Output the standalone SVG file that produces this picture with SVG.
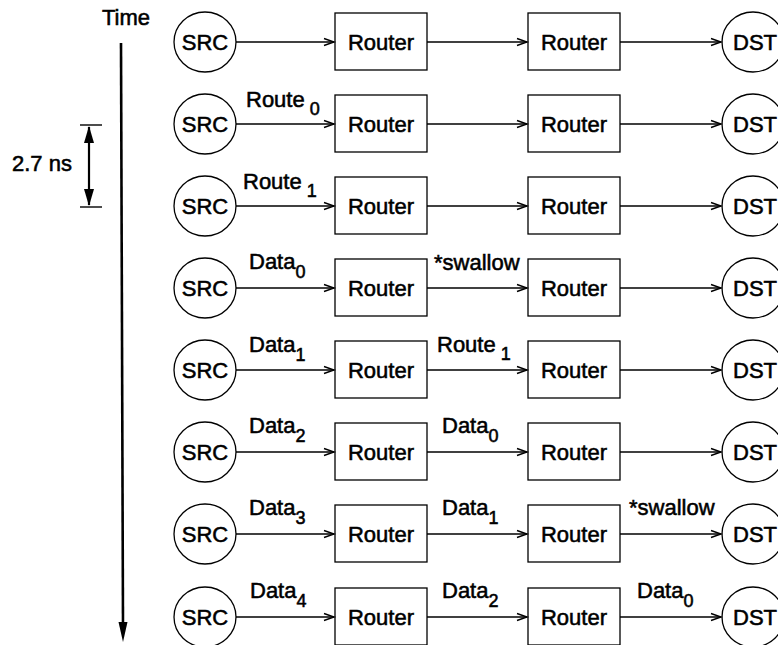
<svg xmlns="http://www.w3.org/2000/svg" width="778" height="645" viewBox="0 0 778 645">
<defs>
<style>
text{font-family:"Liberation Sans",Arial,Helvetica,sans-serif;fill:#000;stroke:#000;stroke-width:0.55;}
.t{font-size:22px;}
.c{text-anchor:middle;}
.s{font-size:18px;}
.nd{fill:#fff;stroke:#000;stroke-width:1.3;}
.cn{stroke:#000;stroke-width:1.4;fill:none;}
.ax{stroke:#000;stroke-width:2.6;fill:none;}
</style>
<marker id="ah" markerUnits="userSpaceOnUse" markerWidth="12" markerHeight="10" refX="10" refY="4" orient="auto" overflow="visible">
<path d="M0,0.5 L10,4 L0,7.5" fill="none" stroke="#000" stroke-width="1.4"/>
</marker>
</defs>
<rect width="778" height="645" fill="#fff"/>

<g id="time-axis">
<text class="t" x="102" y="25">Time</text>
<line class="ax" x1="121" y1="43" x2="123" y2="626"/>
<polygon points="118.5,622 127.5,622 123,642" fill="#000"/>
</g>
<g id="dimension">
<text class="t" x="12" y="171">2.7 ns</text>
<line x1="89" y1="127" x2="89" y2="205" stroke="#000" stroke-width="2.2"/>
<line x1="80" y1="125" x2="102" y2="125" stroke="#000" stroke-width="1.4"/>
<line x1="80" y1="207" x2="102" y2="207" stroke="#000" stroke-width="1.4"/>
<polygon points="89,126 84,143 94,143" fill="#000"/>
<polygon points="89,206 84,189 94,189" fill="#000"/>
</g>

<g id="row1">
<g id="src1"><ellipse class="nd" cx="205" cy="42" rx="31" ry="30"/><text class="t c" x="205" y="50">SRC</text></g>
<g id="ra1"><rect class="nd" x="335" y="13" width="92" height="57"/><text class="t c" x="381" y="50">Router</text></g>
<g id="rb1"><rect class="nd" x="528" y="13" width="92" height="57"/><text class="t c" x="574" y="50">Router</text></g>
<g id="dst1"><ellipse class="nd" cx="753" cy="42" rx="31" ry="30"/><text class="t c" x="755" y="50">DST</text></g>
</g>
<g id="row2">
<g id="src2"><ellipse class="nd" cx="205" cy="124" rx="31" ry="30"/><text class="t c" x="205" y="132">SRC</text></g>
<g id="ra2"><rect class="nd" x="335" y="95" width="92" height="57"/><text class="t c" x="381" y="132">Router</text></g>
<g id="rb2"><rect class="nd" x="528" y="95" width="92" height="57"/><text class="t c" x="574" y="132">Router</text></g>
<g id="dst2"><ellipse class="nd" cx="753" cy="124" rx="31" ry="30"/><text class="t c" x="755" y="132">DST</text></g>
</g>
<g id="row3">
<g id="src3"><ellipse class="nd" cx="205" cy="206" rx="31" ry="30"/><text class="t c" x="205" y="214">SRC</text></g>
<g id="ra3"><rect class="nd" x="335" y="177" width="92" height="57"/><text class="t c" x="381" y="214">Router</text></g>
<g id="rb3"><rect class="nd" x="528" y="177" width="92" height="57"/><text class="t c" x="574" y="214">Router</text></g>
<g id="dst3"><ellipse class="nd" cx="753" cy="206" rx="31" ry="30"/><text class="t c" x="755" y="214">DST</text></g>
</g>
<g id="row4">
<g id="src4"><ellipse class="nd" cx="205" cy="288" rx="31" ry="30"/><text class="t c" x="205" y="296">SRC</text></g>
<g id="ra4"><rect class="nd" x="335" y="259" width="92" height="57"/><text class="t c" x="381" y="296">Router</text></g>
<g id="rb4"><rect class="nd" x="528" y="259" width="92" height="57"/><text class="t c" x="574" y="296">Router</text></g>
<g id="dst4"><ellipse class="nd" cx="753" cy="288" rx="31" ry="30"/><text class="t c" x="755" y="296">DST</text></g>
</g>
<g id="row5">
<g id="src5"><ellipse class="nd" cx="205" cy="370" rx="31" ry="30"/><text class="t c" x="205" y="378">SRC</text></g>
<g id="ra5"><rect class="nd" x="335" y="341" width="92" height="57"/><text class="t c" x="381" y="378">Router</text></g>
<g id="rb5"><rect class="nd" x="528" y="341" width="92" height="57"/><text class="t c" x="574" y="378">Router</text></g>
<g id="dst5"><ellipse class="nd" cx="753" cy="370" rx="31" ry="30"/><text class="t c" x="755" y="378">DST</text></g>
</g>
<g id="row6">
<g id="src6"><ellipse class="nd" cx="205" cy="452" rx="31" ry="30"/><text class="t c" x="205" y="460">SRC</text></g>
<g id="ra6"><rect class="nd" x="335" y="423" width="92" height="57"/><text class="t c" x="381" y="460">Router</text></g>
<g id="rb6"><rect class="nd" x="528" y="423" width="92" height="57"/><text class="t c" x="574" y="460">Router</text></g>
<g id="dst6"><ellipse class="nd" cx="753" cy="452" rx="31" ry="30"/><text class="t c" x="755" y="460">DST</text></g>
</g>
<g id="row7">
<g id="src7"><ellipse class="nd" cx="205" cy="534" rx="31" ry="30"/><text class="t c" x="205" y="542">SRC</text></g>
<g id="ra7"><rect class="nd" x="335" y="505" width="92" height="57"/><text class="t c" x="381" y="542">Router</text></g>
<g id="rb7"><rect class="nd" x="528" y="505" width="92" height="57"/><text class="t c" x="574" y="542">Router</text></g>
<g id="dst7"><ellipse class="nd" cx="753" cy="534" rx="31" ry="30"/><text class="t c" x="755" y="542">DST</text></g>
</g>
<g id="row8">
<g id="src8"><ellipse class="nd" cx="205" cy="617" rx="31" ry="30"/><text class="t c" x="205" y="625">SRC</text></g>
<g id="ra8"><rect class="nd" x="335" y="588" width="92" height="57"/><text class="t c" x="381" y="625">Router</text></g>
<g id="rb8"><rect class="nd" x="528" y="588" width="92" height="57"/><text class="t c" x="574" y="625">Router</text></g>
<g id="dst8"><ellipse class="nd" cx="753" cy="617" rx="31" ry="30"/><text class="t c" x="755" y="625">DST</text></g>
</g>

<g id="connectors">
<path class="cn" marker-end="url(#ah)" d="M236,42 H334"/>
<path class="cn" marker-end="url(#ah)" d="M427,42 H527"/>
<path class="cn" marker-end="url(#ah)" d="M620,42 H721"/>
<path class="cn" marker-end="url(#ah)" d="M236,124 H334"/>
<path class="cn" marker-end="url(#ah)" d="M427,124 H527"/>
<path class="cn" marker-end="url(#ah)" d="M620,124 H721"/>
<path class="cn" marker-end="url(#ah)" d="M236,206 H334"/>
<path class="cn" marker-end="url(#ah)" d="M427,206 H527"/>
<path class="cn" marker-end="url(#ah)" d="M620,206 H721"/>
<path class="cn" marker-end="url(#ah)" d="M236,288 H334"/>
<path class="cn" marker-end="url(#ah)" d="M427,288 H527"/>
<path class="cn" marker-end="url(#ah)" d="M620,288 H721"/>
<path class="cn" marker-end="url(#ah)" d="M236,370 H334"/>
<path class="cn" marker-end="url(#ah)" d="M427,370 H527"/>
<path class="cn" marker-end="url(#ah)" d="M620,370 H721"/>
<path class="cn" marker-end="url(#ah)" d="M236,452 H334"/>
<path class="cn" marker-end="url(#ah)" d="M427,452 H527"/>
<path class="cn" marker-end="url(#ah)" d="M620,452 H721"/>
<path class="cn" marker-end="url(#ah)" d="M236,534 H334"/>
<path class="cn" marker-end="url(#ah)" d="M427,534 H527"/>
<path class="cn" marker-end="url(#ah)" d="M620,534 H721"/>
<path class="cn" marker-end="url(#ah)" d="M236,617 H334"/>
<path class="cn" marker-end="url(#ah)" d="M427,617 H527"/>
<path class="cn" marker-end="url(#ah)" d="M620,617 H721"/>
</g>

<g id="labels">
<text class="t" x="246" y="107">Route<tspan class="s" dx="5" dy="8">0</tspan></text>
<text class="t" x="243" y="189">Route<tspan class="s" dx="5" dy="8">1</tspan></text>
<text class="t" x="249" y="269">Data<tspan class="s" dx="0" dy="9">0</tspan></text>
<text class="t" x="434" y="270">*swallow</text>
<text class="t" x="249" y="352">Data<tspan class="s" dx="0" dy="9">1</tspan></text>
<text class="t" x="437" y="352">Route<tspan class="s" dx="5" dy="8">1</tspan></text>
<text class="t" x="249" y="433">Data<tspan class="s" dx="0" dy="9">2</tspan></text>
<text class="t" x="442" y="433">Data<tspan class="s" dx="0" dy="9">0</tspan></text>
<text class="t" x="249" y="515">Data<tspan class="s" dx="0" dy="9">3</tspan></text>
<text class="t" x="442" y="515">Data<tspan class="s" dx="0" dy="9">1</tspan></text>
<text class="t" x="629" y="515">*swallow</text>
<text class="t" x="250" y="598">Data<tspan class="s" dx="0" dy="9">4</tspan></text>
<text class="t" x="442" y="598">Data<tspan class="s" dx="0" dy="9">2</tspan></text>
<text class="t" x="637" y="598">Data<tspan class="s" dx="0" dy="9">0</tspan></text>
</g>
</svg>
